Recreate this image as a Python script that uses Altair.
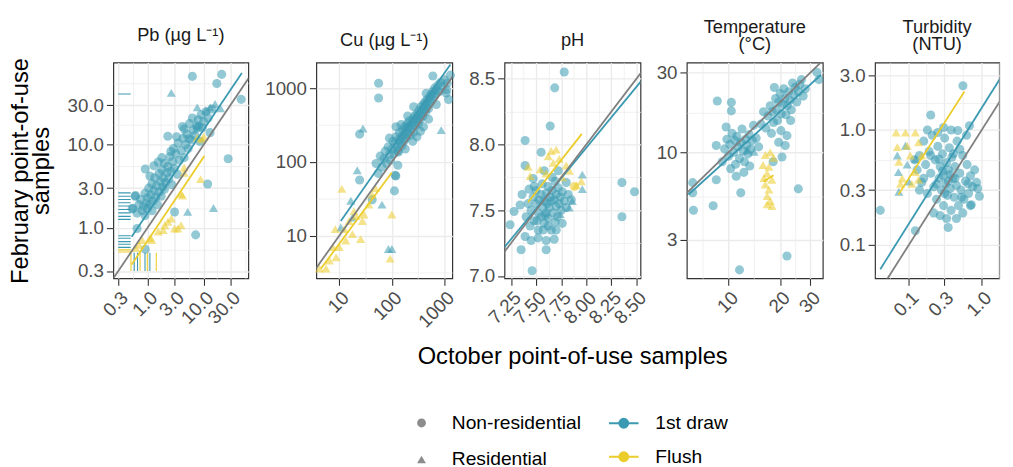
import math
import altair as alt
import pandas as pd

FONT = "Liberation Sans"
BLUE = "#3B9AB2"
YELLOW = "#EBCC2A"
GREY_LINE = "#7F7F7F"
DRAWS = ["1st draw", "Flush"]
SITES = ["Non-residential", "Residential"]

# ---------------- Pb (ug/L) ----------------
PB_BLUE_CIRC = [
    (0.55, 1.7), (0.6, 2.4), (0.65, 1.5), (0.7, 1.9), (0.75, 2.2), (0.8, 1.6), (0.85, 1.8), (0.9, 2.6),
    (0.9, 1.4), (0.95, 2.0), (1.0, 1.7), (1.0, 2.3), (1.05, 3.0), (1.1, 1.9), (1.15, 2.5), (1.2, 1.6),
    (1.2, 3.4), (1.25, 2.1), (1.3, 2.8), (1.35, 4.0), (1.4, 2.3), (1.45, 3.2), (1.5, 1.9), (1.55, 6.2),
    (1.6, 2.7), (1.6, 4.5), (1.7, 3.6), (1.75, 2.4), (1.8, 5.0), (1.85, 3.1), (1.9, 4.0), (2.0, 2.9),
    (2.0, 6.0), (2.1, 3.5), (2.2, 4.6), (2.3, 12.7), (2.3, 5.5), (2.4, 3.9), (2.5, 7.2), (2.6, 4.8),
    (2.7, 3.3), (2.8, 6.3), (2.9, 9.0), (3.0, 5.2), (3.03, 1.55), (3.2, 7.8), (3.4, 4.4), (3.5, 10.5),
    (3.7, 6.5), (4.0, 8.5), (4.2, 16.6), (4.3, 12.0), (4.5, 15.5), (4.5, 7.0), (4.8, 10.0), (5.0, 13.5),
    (5.3, 9.0), (5.5, 11.8), (5.6, 18.0), (6.0, 11.5), (6.3, 21.0), (6.3, 66.8), (6.5, 15.0), (7.0, 13.0),
    (7.2, 0.82), (7.5, 17.0), (7.7, 15.9), (8.2, 16.6), (8.0, 20.0), (8.5, 11.0), (9.0, 23.0), (9.5, 16.0),
    (10.0, 19.0), (11.0, 25.0), (11.8, 3.37), (12.0, 21.0), (13.0, 14.0), (14.0, 27.0), (17.2, 54.7),
    (21.0, 70.6), (27.4, 6.8), (46.7, 35.3), (0.61, 2.44), (0.53, 1.7), (0.91, 5.1), (0.65, 0.98),
    (0.91, 0.55), (1.3, 5.6), (1.1, 4.2), (2.6, 8.3), (3.3, 12.5), (1.8, 7.0),
]
PB_BLUE_TRI = [(2.65, 42.3), (15.0, 1.73), (5.2, 1.55), (7.7, 28.3), (13.1, 28.3), (20.0, 27.5),
               (11.0, 26.0), (16.0, 31.0)]
PB_YELLOW_CIRC = []
PB_YELLOW_TRI = [
    (9.4, 11.6), (4.5, 5.3), (3.96, 2.56), (2.03, 1.07), (3.46, 0.98), (1.55, 0.9), (1.11, 0.75),
    (0.70, 0.62), (8.8, 3.86), (2.65, 1.29), (7.7, 12.1), (10.1, 12.5), (4.5, 4.6), (4.2, 2.44),
    (2.3, 1.18), (3.03, 0.98), (3.96, 1.07), (1.9, 0.94), (1.19, 0.71), (0.8, 0.71), (0.61, 0.57),
]
# censored results: October (x) or February (y) below the reporting limit
PB_LIMIT_LOW = 0.3
PB_LIMIT = 0.5
PB_RUG_Y_BLUE = [40.9, 2.63, 2.40, 2.19, 2.0, 1.83, 1.66, 1.51, 1.37, 1.26, 0.80, 0.746, 0.68, 0.633, 0.58]
PB_RUG_Y_YELLOW = [0.54, 0.51]
PB_RUG_X_BLUE = [0.578, 0.662, 0.90, 1.10]
PB_RUG_X_YELLOW = [0.506, 0.735, 0.99, 1.43]
PB_FIT = {"1st draw": [(0.52, 0.78), (48.1, 73.2)], "Flush": [(0.52, 0.359), (10.3, 7.32)]}

# ---------------- Cu (ug/L) ----------------
CU_BLUE_CIRC = [
    (50, 95), (55, 70), (60, 120), (65, 85), (70, 110), (75, 140), (80, 95), (85, 160), (90, 125),
    (95, 105), (100, 150), (105, 190), (110, 130), (115, 175), (120, 220), (125, 160), (130, 140),
    (135, 200), (140, 250), (145, 180), (150, 210), (155, 165), (160, 270), (165, 230), (170, 190),
    (175, 300), (180, 240), (185, 210), (190, 280), (195, 330), (200, 250), (210, 300), (215, 360),
    (220, 230), (230, 320), (240, 280), (250, 380), (255, 340), (260, 250), (270, 420), (280, 310),
    (290, 370), (300, 450), (310, 400), (320, 330), (330, 500), (340, 430), (350, 380), (360, 560),
    (375, 470), (390, 420), (400, 600), (410, 520), (425, 650), (440, 480), (450, 560), (470, 700),
    (480, 610), (500, 530), (520, 760), (540, 650), (560, 820), (580, 700), (600, 900), (620, 780),
    (650, 1000), (680, 850), (700, 950), (750, 1100), (800, 900), (850, 1200), (900, 1050),
    (1000, 1300), (1100, 950), (1081, 857), (1130, 1170), (300, 220), (250, 190), (400, 300),
    (500, 380), (200, 420), (150, 320), (116, 66), (133, 136), (56, 1167), (56, 736), (603, 1459),
    (24.4, 238), (119, 64.3), (112, 40.5), (24.4, 56.9), (42.3, 30.8), (1300, 1500), (1200, 700),
    (90, 210), (120, 300), (180, 150), (260, 560), (350, 260), (450, 850), (700, 600), (130, 90),
]
CU_BLUE_TRI = [(28.2, 284), (22, 77), (870, 270), (86, 6.6), (100, 6.6), (65, 26.4), (16.6, 29.8),
               (10.7, 12.9), (17.8, 17.6)]
CU_YELLOW_CIRC = []
CU_YELLOW_TRI = [
    (11.2, 43.1), (4.2, 3.6), (5.6, 3.6), (8.7, 5.1), (8.4, 12.3), (13.3, 8.6), (17.8, 10.5),
    (25.5, 9.0), (27.5, 15.8), (20.6, 18.5), (36.6, 26.4), (42.3, 35.8), (48.8, 44.1), (100, 19.4),
    (93, 4.9), (7.5, 7.0), (10, 7.0), (6.5, 4.6), (15.4, 15.8), (12.4, 12.3), (29.5, 19.4), (19.1, 21.5),
]
CU_FIT = {"1st draw": [(10.7, 15.8), (1300, 2090)], "Flush": [(4.5, 3.6), (100, 72)]}

# ---------------- pH ----------------
PH_BLUE_CIRC = [
    (7.78, 8.55), (7.685, 8.43), (7.64, 8.14), (7.39, 8.03), (7.39, 7.84), (7.24, 7.39), (7.35, 7.2),
    (7.46, 7.04), (7.60, 7.2), (7.60, 7.27), (8.355, 7.71), (8.355, 7.45), (8.48, 7.64), (7.39, 7.30),
    (7.28, 7.49), (7.55, 7.94), (7.80, 7.71), (7.69, 7.41), (7.47, 7.74), (7.34, 7.54), (7.52, 7.29),
    (7.57, 7.35), (7.70, 7.35), (7.40, 7.45), (7.42, 7.55), (7.45, 7.50), (7.47, 7.60), (7.48, 7.42),
    (7.50, 7.55), (7.50, 7.65), (7.52, 7.48), (7.53, 7.58), (7.55, 7.45), (7.55, 7.62), (7.56, 7.70),
    (7.57, 7.52), (7.58, 7.40), (7.58, 7.57), (7.60, 7.48), (7.60, 7.63), (7.61, 7.55), (7.62, 7.68),
    (7.62, 7.44), (7.63, 7.52), (7.64, 7.60), (7.65, 7.35), (7.65, 7.57), (7.66, 7.65), (7.67, 7.48),
    (7.68, 7.58), (7.69, 7.72), (7.70, 7.53), (7.70, 7.62), (7.71, 7.45), (7.72, 7.67), (7.73, 7.55),
    (7.74, 7.60), (7.75, 7.50), (7.76, 7.64), (7.78, 7.57), (7.80, 7.52), (7.82, 7.62), (7.85, 7.58),
    (7.52, 7.35), (7.62, 7.38), (7.44, 7.38), (7.48, 7.68), (7.66, 7.75), (7.72, 7.80), (7.58, 7.80),
    (7.76, 7.40), (7.68, 7.28), (7.45, 7.27), (7.36, 7.62), (7.43, 7.66), (7.51, 7.42), (7.59, 7.46),
]
PH_BLUE_TRI = [(7.96, 7.77), (7.96, 7.66), (7.86, 7.57), (7.83, 7.52), (7.74, 7.47)]
PH_YELLOW_CIRC = [(7.88, 7.68)]
PH_YELLOW_TRI = [
    (7.42, 7.83), (7.44, 7.76), (7.83, 7.80), (7.90, 7.69), (7.95, 7.72), (7.65, 7.95), (7.70, 7.96),
    (7.62, 7.91), (7.73, 7.89), (7.80, 7.84), (7.54, 7.81), (7.67, 7.86), (7.60, 7.78), (7.76, 7.75),
]
PH_FIT = {"1st draw": [(7.185, 7.22), (8.54, 8.475)], "Flush": [(7.42, 7.56), (7.955, 8.08)]}

# ---------------- Temperature (C) ----------------
TEMP_BLUE_CIRC = [
    (9.5, 10.5), (9.8, 12.0), (10.0, 9.5), (10.2, 11.2), (10.5, 13.0), (10.7, 10.0), (10.9, 11.8),
    (11.0, 8.5), (11.2, 12.5), (11.4, 10.8), (11.6, 9.2), (11.8, 11.5), (12.0, 13.8), (12.2, 10.2),
    (12.4, 8.8), (12.6, 12.0), (12.8, 11.0), (13.0, 9.8), (13.2, 12.8), (13.5, 10.5), (13.8, 11.8),
    (14.0, 14.5), (10.3, 8.0), (11.1, 7.2), (12.3, 7.6), (13.3, 8.3), (9.2, 8.8), (14.5, 12.2),
    (15.0, 10.8), (8.62, 20.3), (10.4, 19.9), (10.4, 17.7), (6.2, 6.6), (6.2, 5.74), (6.26, 4.52),
    (8.15, 4.8), (8.5, 6.87), (8.5, 11.0), (9.7, 14.2), (11.8, 5.74), (11.6, 1.99), (21.9, 2.41),
    (25.5, 6.06), (18.2, 8.8), (20.5, 9.4), (18.3, 15.1), (21.9, 12.6), (21.4, 11.0), (19.6, 11.5),
    (17.0, 16.5), (17.5, 19.0), (18.0, 17.5), (18.5, 24.4), (18.8, 21.0), (19.0, 18.0), (19.3, 15.5),
    (19.6, 20.0), (20.0, 22.5), (20.3, 17.0), (20.6, 19.5), (21.0, 24.0), (21.3, 21.0), (21.6, 16.8),
    (22.0, 19.0), (22.4, 23.0), (22.8, 20.5), (23.2, 18.0), (23.6, 26.0), (24.0, 22.0), (24.5, 24.5),
    (25.0, 20.0), (25.5, 23.0), (26.0, 25.5), (26.6, 27.2), (27.2, 21.7), (28.0, 24.0), (32.7, 30.1),
    (33.6, 27.2), (16.5, 14.0), (17.8, 13.0), (20.2, 13.5), (23.0, 15.5), (15.5, 14.8), (16.0, 17.5),
]
TEMP_BLUE_TRI = [(14.1, 10.1), (12.8, 10.3)]
TEMP_YELLOW_CIRC = []
TEMP_YELLOW_TRI = [
    (17.5, 10.0), (16.4, 9.65), (18.3, 9.3), (15.9, 8.42), (17.2, 8.2), (16.8, 7.5), (16.1, 7.04),
    (17.9, 6.87), (16.4, 6.42), (17.2, 6.0), (16.8, 5.48), (17.5, 5.13), (16.8, 4.9), (17.9, 4.79),
]
TEMP_FIT = {"1st draw": [(5.86, 5.61), (34.6, 29.1)], "Flush": [(16.0, 6.7), (18.3, 7.3)]}

# ---------------- Turbidity (NTU) ----------------
TURB_BLUE_CIRC = [
    (0.553, 2.43), (0.0406, 0.2), (0.123, 0.133), (0.2, 1.35), (0.347, 0.142), (0.88, 0.31),
    (0.93, 0.265), (0.72, 0.224), (0.68, 1.09), (0.47, 0.99), (0.13, 0.45), (0.14, 0.6), (0.15, 0.35),
    (0.16, 0.8), (0.17, 0.5), (0.18, 0.28), (0.19, 0.65), (0.2, 0.42), (0.21, 0.9), (0.22, 0.32),
    (0.23, 0.55), (0.24, 0.25), (0.25, 0.72), (0.26, 0.38), (0.27, 0.48), (0.28, 0.3), (0.29, 0.62),
    (0.3, 0.22), (0.3, 0.4), (0.31, 0.85), (0.32, 0.34), (0.33, 0.52), (0.34, 0.27), (0.35, 0.45),
    (0.36, 0.7), (0.37, 0.31), (0.38, 0.2), (0.39, 0.58), (0.4, 0.38), (0.42, 0.26), (0.43, 0.48),
    (0.45, 0.33), (0.46, 0.8), (0.48, 0.22), (0.5, 0.42), (0.52, 0.3), (0.55, 0.6), (0.57, 0.25),
    (0.6, 0.36), (0.63, 0.5), (0.66, 0.28), (0.7, 0.4), (0.75, 0.32), (0.8, 0.45), (0.85, 0.35),
    (0.27, 0.18), (0.33, 0.17), (0.22, 0.19), (0.45, 0.17), (0.55, 0.19), (0.25, 0.95), (0.38, 1.0),
    (0.3, 1.05), (0.18, 1.0), (0.62, 0.9), (0.5, 0.68), (0.41, 0.62), (0.35, 0.36), (0.29, 0.44),
    (0.24, 0.34), (0.31, 0.28), (0.37, 0.41), (0.26, 0.56), (0.2, 0.6), (0.16, 0.38), (0.14, 0.3),
    (0.43, 0.38), (0.53, 0.26), (0.65, 0.34), (0.7, 0.22), (0.12, 0.55),
]
TURB_BLUE_TRI = [(0.0695, 0.6), (0.072, 0.43), (0.073, 0.29), (0.095, 0.5), (0.1, 0.356), (0.123, 0.56),
                 (0.09, 0.73)]
TURB_YELLOW_CIRC = []
TURB_YELLOW_TRI = [
    (0.067, 0.95), (0.09, 0.95), (0.123, 0.95), (0.0695, 0.71), (0.095, 0.73), (0.136, 0.78),
    (0.073, 0.53), (0.105, 0.6), (0.081, 0.38), (0.123, 0.43), (0.077, 0.34), (0.11, 0.34),
    (0.136, 0.37), (0.15, 0.6),
]
TURB_FIT = {"1st draw": [(0.0406, 0.0615), (1.81, 2.83)], "Flush": [(0.072, 0.274), (0.58, 2.16)]}

# ---------------- helpers ----------------
def points_frame(bc, bt, yc, yt):
    rows = []
    for lst, d, s in [(bc, DRAWS[0], SITES[0]), (bt, DRAWS[0], SITES[1]),
                      (yc, DRAWS[1], SITES[0]), (yt, DRAWS[1], SITES[1])]:
        for x, y in lst:
            rows.append({"x": x, "y": y, "draw": d, "site": s})
    return pd.DataFrame(rows)


def fit_frame(fit):
    rows = []
    for d, pts in fit.items():
        for x, y in pts:
            rows.append({"x": x, "y": y, "draw": d})
    return pd.DataFrame(rows)


def minor_breaks(majors, lo_nb, hi_nb, dom, log=True):
    full = [lo_nb] + majors + [hi_nb]
    out = []
    for a, b in zip(full[:-1], full[1:]):
        m = math.sqrt(a * b) if log else (a + b) / 2
        if dom[0] <= m <= dom[1]:
            out.append(m)
    return out


def make_axis(majors, minors, fmt, is_x=True, title=None):
    maj = "[" + ",".join(repr(float(v)) for v in majors) + "]"
    minor_test = f"indexof({maj}, datum.value) < 0"
    kw = dict(
        values=sorted(majors + minors),
        labelExpr=f"indexof({maj}, datum.value) >= 0 ? format(datum.value, '{fmt}') : ''",
        tickOpacity={"condition": {"test": minor_test, "value": 0}, "value": 1},
        gridWidth={"condition": {"test": minor_test, "value": 0.7}, "value": 1.4},
        labelOverlap=False,
        labelFlush=False,
    )
    if is_x:
        kw.update(labelAngle=315, labelAlign="right", labelBaseline="top")
    if title is not None:
        kw.update(title=title)
    else:
        kw.update(title=None)
    return alt.Axis(**kw)


fill_scale = alt.Scale(domain=DRAWS, range=[BLUE, YELLOW])
shape_scale = alt.Scale(domain=SITES, range=["circle", "triangle-up"])

LEG_PATH = "M-1,0L1,0M0.3,0A0.3,0.3,0,1,1,-0.3,0A0.3,0.3,0,1,1,0.3,0Z"
draw_legend = alt.Legend(title=None, orient="none", legendX=502, legendY=350, direction="vertical",
                         symbolType=LEG_PATH, symbolSize=900, symbolStrokeWidth=2,
                         labelFontSize=19.5, labelFont=FONT, labelColor="black", labelOffset=16,
                         rowPadding=8, padding=0)
shape_legend = alt.Legend(title=None, orient="none", legendX=303, legendY=356, direction="vertical",
                          symbolSize=80, symbolFillColor="#8C8C8C", symbolStrokeWidth=0,
                          labelFontSize=19.5, labelFont=FONT, labelColor="black", labelOffset=21,
                          rowPadding=16, padding=0)


def panel(title, title_offset, pts, fit, ident, xdom, ydom, xaxis, yaxis, log, width, rug=None):
    stype = "log" if log else "linear"
    xs = alt.Scale(type=stype, domain=xdom, nice=False, zero=False)
    ys = alt.Scale(type=stype, domain=ydom, nice=False, zero=False)
    X = alt.X("x:Q", scale=xs, axis=xaxis)
    Y = alt.Y("y:Q", scale=ys, axis=yaxis)
    pts_layer = alt.Chart(pts).mark_point(filled=True, size=85, fillOpacity=0.55, strokeWidth=0).encode(
        x=X, y=Y,
        fill=alt.Fill("draw:N", scale=fill_scale, legend=draw_legend),
        shape=alt.Shape("site:N", scale=shape_scale, legend=shape_legend),
    )
    layers = [pts_layer]
    if rug is not None:
        layers.append(alt.Chart(rug).mark_rule(strokeWidth=1.1, clip=True).encode(
            x=X, x2="x2:Q", y=Y, y2="y2:Q",
            stroke=alt.Stroke("draw:N", scale=fill_scale, legend=draw_legend),
        ))
    layers.append(alt.Chart(fit).mark_line(strokeWidth=1.8, clip=True).encode(
        x=X, y=Y, detail="draw:N",
        stroke=alt.Stroke("draw:N", scale=fill_scale, legend=draw_legend),
    ))
    layers.append(alt.Chart(ident).mark_line(strokeWidth=1.8, clip=True, color=GREY_LINE).encode(x=X, y=Y))
    return alt.layer(*layers).properties(
        width=width, height=219,
        title=alt.TitleParams(title, offset=title_offset, fontSize=18.5, font=FONT, color="#1A1A1A",
                              fontWeight="normal", lineHeight=18, anchor="middle"),
    )


def spacer(w):
    # empty layout cell that sets the gap between two panels
    return alt.Chart(pd.DataFrame({"v": [0]})).mark_point(opacity=0).properties(
        width=w, height=219, view=alt.ViewBackground(strokeOpacity=0)
    )


# ---- Pb
pb_xdom = [0.245, 62.7]
pb_ydom = [0.245, 98.0]
pb_maj = [0.3, 1.0, 3.0, 10.0, 30.0]
rug_rows = []
for v in PB_RUG_Y_BLUE:
    rug_rows.append({"x": PB_LIMIT_LOW, "x2": PB_LIMIT, "y": v, "y2": v, "draw": DRAWS[0]})
for v in PB_RUG_Y_YELLOW:
    rug_rows.append({"x": PB_LIMIT_LOW, "x2": PB_LIMIT, "y": v, "y2": v, "draw": DRAWS[1]})
for v in PB_RUG_X_BLUE:
    rug_rows.append({"x": v, "x2": v, "y": PB_LIMIT_LOW, "y2": PB_LIMIT, "draw": DRAWS[0]})
for v in PB_RUG_X_YELLOW:
    rug_rows.append({"x": v, "x2": v, "y": PB_LIMIT_LOW, "y2": PB_LIMIT, "draw": DRAWS[1]})

p1 = panel(
    "Pb (µg L⁻¹)", 13,
    points_frame(PB_BLUE_CIRC, PB_BLUE_TRI, PB_YELLOW_CIRC, PB_YELLOW_TRI), fit_frame(PB_FIT),
    pd.DataFrame({"x": [0.01, 10000.0], "y": [0.01, 10000.0]}),
    pb_xdom, pb_ydom,
    make_axis(pb_maj, minor_breaks(pb_maj, 0.1, 100.0, pb_xdom), ".1f"),
    make_axis(pb_maj, minor_breaks(pb_maj, 0.1, 100.0, pb_ydom), ".1f", is_x=False,
              title=["February point-of-use", "samples"]),
    True, 137, rug=pd.DataFrame(rug_rows),
)

# ---- Cu
cu_xdom = [3.66, 1413.0]
cu_ydom = [2.64, 2222.0]
cu_maj = [10.0, 100.0, 1000.0]
p2 = panel(
    "Cu (µg L⁻¹)", 13,
    points_frame(CU_BLUE_CIRC, CU_BLUE_TRI, CU_YELLOW_CIRC, CU_YELLOW_TRI), fit_frame(CU_FIT),
    pd.DataFrame({"x": [0.1, 100000.0], "y": [0.1, 100000.0]}),
    cu_xdom, cu_ydom,
    make_axis(cu_maj, minor_breaks(cu_maj, 1.0, 10000.0, cu_xdom), "d"),
    make_axis(cu_maj, minor_breaks(cu_maj, 1.0, 10000.0, cu_ydom), "d", is_x=False),
    True, 138,
)

# ---- pH
ph_xdom = [7.185, 8.54]
ph_ydom = [6.982, 8.622]
ph_xmaj = [7.25, 7.5, 7.75, 8.0, 8.25, 8.5]
ph_ymaj = [7.0, 7.5, 8.0, 8.5]
p3 = panel(
    "pH", 13,
    points_frame(PH_BLUE_CIRC, PH_BLUE_TRI, PH_YELLOW_CIRC, PH_YELLOW_TRI), fit_frame(PH_FIT),
    pd.DataFrame({"x": [6.0, 10.0], "y": [6.0, 10.0]}),
    ph_xdom, ph_ydom,
    make_axis(ph_xmaj, minor_breaks(ph_xmaj, 7.0, 8.75, ph_xdom, log=False), ".2f"),
    make_axis(ph_ymaj, minor_breaks(ph_ymaj, 6.5, 9.0, ph_ydom, log=False), ".1f", is_x=False),
    False, 138,
)

# ---- Temperature
t_xdom = [5.73, 35.4]
t_ydom = [1.77, 34.4]
t_xmaj = [10.0, 20.0, 30.0]
t_ymaj = [3.0, 10.0, 30.0]
p4 = panel(
    ["Temperature", "(°C)"], 9,
    points_frame(TEMP_BLUE_CIRC, TEMP_BLUE_TRI, TEMP_YELLOW_CIRC, TEMP_YELLOW_TRI), fit_frame(TEMP_FIT),
    pd.DataFrame({"x": [1.0, 100.0], "y": [1.0, 100.0]}),
    t_xdom, t_ydom,
    make_axis(t_xmaj, minor_breaks(t_xmaj, 5.0, 40.0, [5.73, 34.0]), "d"),
    make_axis(t_ymaj, minor_breaks(t_ymaj, 1.0, 100.0, t_ydom), "d", is_x=False),
    True, 138,
)

# ---- Turbidity
u_xdom = [0.0344, 1.74]
u_ydom = [0.0512, 3.86]
u_xmaj = [0.1, 0.3, 1.0]
u_ymaj = [0.1, 0.3, 1.0, 3.0]
p5 = panel(
    ["Turbidity", "(NTU)"], 9,
    points_frame(TURB_BLUE_CIRC, TURB_BLUE_TRI, TURB_YELLOW_CIRC, TURB_YELLOW_TRI), fit_frame(TURB_FIT),
    pd.DataFrame({"x": [0.001, 100.0], "y": [0.001, 100.0]}),
    u_xdom, u_ydom,
    make_axis(u_xmaj, minor_breaks(u_xmaj, 0.03, 3.0, u_xdom), ".1f"),
    make_axis(u_ymaj, minor_breaks(u_ymaj, 0.03, 10.0, u_ydom), ".1f", is_x=False),
    True, 126,
)

row = alt.hconcat(
    p1, spacer(68.7), p2, spacer(52.7), p3, spacer(46.3), p4, spacer(52.7), p5,
    spacing=0, bounds="flush",
).properties(
    title=alt.TitleParams("October point-of-use samples", orient="bottom", anchor="middle", dx=63,
                          offset=14, fontSize=24, font=FONT, color="black", fontWeight="normal")
)

chart = alt.vconcat(row).properties(
    padding={"left": 8, "top": 13, "right": 0, "bottom": 0}
).configure_view(
    stroke="#333333", strokeWidth=1.2
).configure_axis(
    domain=False, grid=True, gridColor="#EBEBEB", tickColor="#333333", tickSize=7, tickWidth=1.1,
    labelColor="#4D4D4D", labelFont=FONT, labelFontSize=19, labelPadding=3,
    titleFont=FONT, titleFontSize=24, titleColor="black", titleFontWeight="normal", titlePadding=14,
    titleLineHeight=21,
).configure_legend(
    labelFont=FONT
)

chart.save("out.html", embed_options={"renderer": "svg", "actions": False})
